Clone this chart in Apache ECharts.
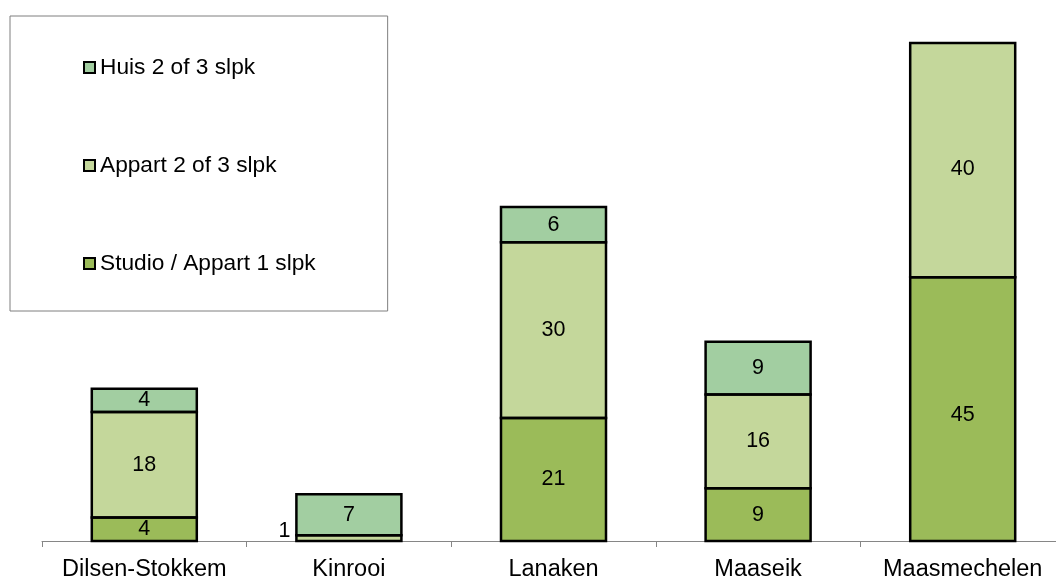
<!DOCTYPE html>
<html>
<head>
<meta charset="utf-8">
<script src="https://cdn.jsdelivr.net/npm/echarts@6/dist/echarts.min.js"></script>
<style>
  html, body { margin: 0; padding: 0; background: #ffffff; }
  #chart { width: 1056px; height: 579px; }
</style>
</head>
<body>
<div id="chart"></div>
<script>
// Gemeenten en aantallen woningen per type
const categories = ['Dilsen-Stokkem', 'Kinrooi', 'Lanaken', 'Maaseik', 'Maasmechelen'];
const studio = [4, 0, 21, 9, 45];   // Studio / Appart 1 slpk
const appart = [18, 1, 30, 16, 40]; // Appart 2 of 3 slpk
const huis = [4, 7, 6, 9, 0];       // Huis 2 of 3 slpk
const seriesNames = ['Studio / Appart 1 slpk', 'Appart 2 of 3 slpk', 'Huis 2 of 3 slpk'];

const FONT = '"Liberation Sans", Arial, sans-serif';
const colors = ['#9BBB59', '#C4D79B', '#A2CEA1'];
const BAR_WIDTH = 105;
const stackOrder = [studio, appart, huis];

// Label placement per category (the last column's labels sit a bit lower)
const labelShift = { 'Maasmechelen': [[0, 6], [0, 9], [0, 0]] };

function makeSeries(name, values, color, idx) {
  return {
    name: name,
    type: 'bar',
    stack: 'total',
    barWidth: BAR_WIDTH,
    data: values.map((v, i) => {
      if (v === 0) return '-';
      const item = { value: v };
      const shift = labelShift[categories[i]];
      if (v <= 1) {
        // very thin segment: value shown beside the bar
        item.label = { position: 'left', distance: 6, offset: [0, -7] };
      } else if (shift) {
        item.label = { offset: shift[idx] };
      }
      return item;
    }),
    itemStyle: { color: color, borderWidth: 0 },
    label: {
      show: true,
      position: 'inside',
      color: '#000000',
      fontFamily: FONT,
      fontSize: 21.5
    },
    z: 2
  };
}

// Black outlines around each stacked segment, strokes centred on the edges
const outlineSeries = {
  name: 'outline',
  type: 'custom',
  z: 3,
  silent: true,
  data: categories.map((c, i) => [i, 0]),
  renderItem: function (params, api) {
    const i = api.value(0);
    const children = [];
    let base = 0;
    stackOrder.forEach(arr => {
      const v = arr[i];
      if (!v) return;
      const p0 = api.coord([i, base]);
      const p1 = api.coord([i, base + v]);
      children.push({
        type: 'rect',
        shape: { x: p0[0] - BAR_WIDTH / 2, y: p1[1], width: BAR_WIDTH, height: p0[1] - p1[1] },
        style: { fill: 'none', stroke: '#000000', lineWidth: 2.5 }
      });
      base += v;
    });
    return { type: 'group', children: children };
  }
};

const chart = echarts.init(document.getElementById('chart'), null, { renderer: 'canvas' });
chart.setOption({
  animation: false,
  backgroundColor: '#ffffff',
  color: colors,
  grid: { left: 42, width: 1023, top: 43, bottom: 38, containLabel: false, outerBoundsMode: 'none' },
  legend: {
    orient: 'vertical',
    left: 10,
    top: 16,
    data: [seriesNames[2], seriesNames[1], seriesNames[0]],
    icon: 'rect',
    itemWidth: 11,
    itemHeight: 11,
    itemGap: 75,
    padding: [40, 72, 36, 73],
    borderColor: '#7f7f7f',
    borderWidth: 1,
    itemStyle: { borderColor: '#000000', borderWidth: 2 },
    textStyle: { color: '#000000', fontFamily: FONT, fontSize: 22.7 }
  },
  xAxis: {
    type: 'category',
    data: categories,
    axisLine: { lineStyle: { color: '#868686', width: 1 } },
    axisTick: { show: true, length: 6, lineStyle: { color: '#868686' } },
    axisLabel: { color: '#000000', fontFamily: FONT, fontSize: 23.5, margin: 17, interval: 0 }
  },
  yAxis: {
    type: 'value',
    min: 0,
    max: 85,
    show: false,
    splitLine: { show: false }
  },
  series: [
    makeSeries(seriesNames[0], studio, colors[0], 0),
    makeSeries(seriesNames[1], appart, colors[1], 1),
    makeSeries(seriesNames[2], huis, colors[2], 2),
    outlineSeries
  ]
});
</script>
</body>
</html>
